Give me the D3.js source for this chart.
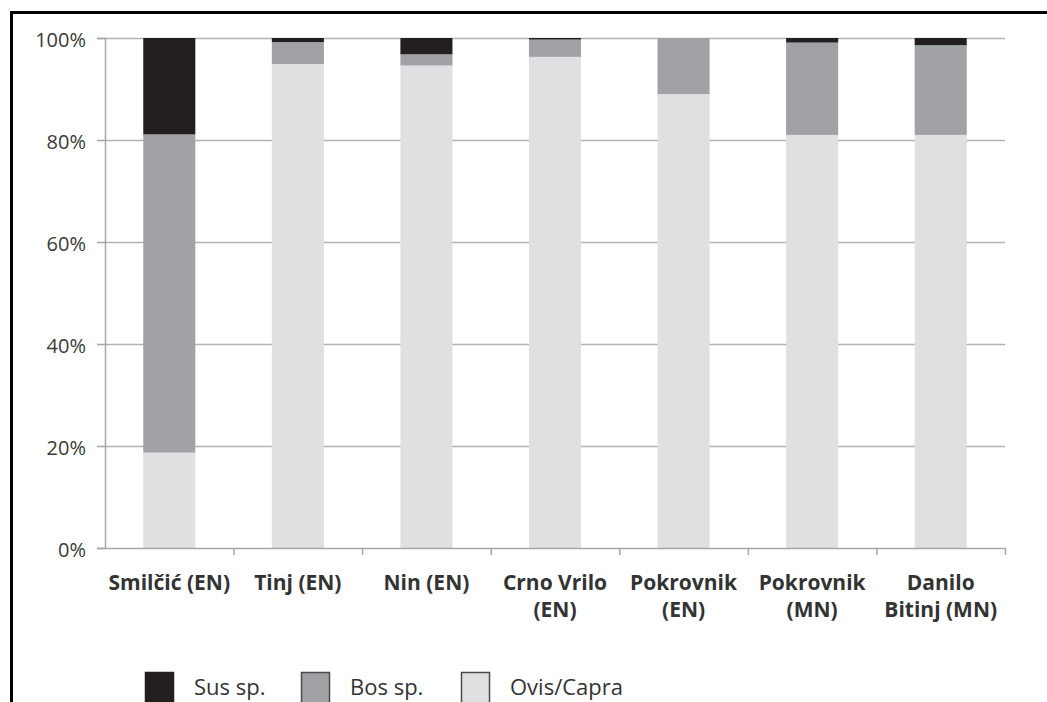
<!DOCTYPE html>
<html>
<head>
<meta charset="utf-8">
<script src="https://cdn.jsdelivr.net/npm/d3@7"></script>
<style>
  html, body { margin: 0; padding: 0; background: #fff; }
  svg { display: block; }
</style>
</head>
<body>
<script>
'use strict';

// sites, split into label lines as printed under the axis
const sites = ["Smilčić (EN)", "Tinj (EN)", "Nin (EN)", "Crno Vrilo (EN)", "Pokrovnik (EN)", "Pokrovnik (MN)", "Danilo Bitinj (MN)"];
const siteLines = [["Smilčić (EN)"], ["Tinj (EN)"], ["Nin (EN)"], ["Crno Vrilo", "(EN)"], ["Pokrovnik", "(EN)"], ["Pokrovnik", "(MN)"], ["Danilo", "Bitinj (MN)"]];

// percentages
const ovisCapra = [18.7, 94.9, 94.6, 96.3, 89.0, 81.0, 81.0];
const bosSp = [62.4, 4.3, 2.2, 3.4, 11.0, 18.1, 17.6];
const susSp = [18.9, 0.8, 3.2, 0.3, 0.0, 0.9, 1.4];

const seriesNames = ["Ovis/Capra", "Bos sp.", "Sus sp."];
const legendOrder = ["Sus sp.", "Bos sp.", "Ovis/Capra"];
const yTicks = [0, 20, 40, 60, 80, 100];

const colors = {
  "Sus sp.": "#231f20",
  "Bos sp.": "#a1a2a5",
  "Ovis/Capra": "#e0e0e2"
};

const m = { left: 105, right: 1005, top: 38, bottom: 548 };

const svg = d3.select('body')
  .append('svg')
  .attr('width', 1047)
  .attr('height', 702);

// frame (top and left edges only are visible)
svg.append('line')
  .attr('x1', 10).attr('x2', 1047).attr('y1', 12.5).attr('y2', 12.5)
  .attr('stroke', '#000').attr('stroke-width', 3);
svg.append('line')
  .attr('x1', 11.5).attr('x2', 11.5).attr('y1', 11).attr('y2', 702)
  .attr('stroke', '#000').attr('stroke-width', 3);

// table for stacking
const table = sites.map((s, i) => ({
  site: s,
  "Ovis/Capra": ovisCapra[i],
  "Bos sp.": bosSp[i],
  "Sus sp.": susSp[i]
}));

const stacked = d3.stack().keys(seriesNames)(table);

const xScale = d3.scaleBand()
  .domain(sites)
  .range([m.left, m.right])
  .padding(0);

const yScale = d3.scaleLinear()
  .domain([0, 100])
  .range([m.bottom, m.top]);

const barW = xScale.bandwidth() * 0.405;

// gridlines
svg.append('g')
  .attr('transform', 'translate(' + m.left + ',0)')
  .call(d3.axisLeft(yScale).tickValues(yTicks.slice(1)).tickSize(-(m.right - m.left)).tickFormat(''))
  .call(g => g.select('.domain').remove())
  .call(g => g.selectAll('line').attr('stroke', '#b2b2b2').attr('stroke-width', 1.5));

// bars
svg.append('g')
  .selectAll('g')
  .data(stacked)
  .enter()
  .append('g')
  .attr('fill', (d) => colors[d.key])
  .selectAll('rect')
  .data((d) => d)
  .enter()
  .append('rect')
  .attr('x', (d) => xScale(d.data.site) + (xScale.bandwidth() - barW) / 2)
  .attr('y', (d) => yScale(d[1]))
  .attr('width', barW)
  .attr('height', (d) => yScale(d[0]) - yScale(d[1]));

// y axis
const yAxis = svg.append('g')
  .attr('transform', 'translate(' + m.left + ',0)')
  .call(d3.axisLeft(yScale).tickValues(yTicks).tickSize(8).tickPadding(11).tickFormat((d) => d + '%'));
yAxis.select('.domain').attr('stroke', '#a6a6a6').attr('stroke-width', 1.5);
yAxis.selectAll('line').attr('stroke', '#a6a6a6').attr('stroke-width', 1.5);
yAxis.selectAll('text')
  .attr('font-family', '"Open Sans", sans-serif')
  .attr('font-size', '20px')
  .attr('fill', '#3a3a3a')
  .attr('dy', '0.4em');

// x axis with ticks on the category boundaries
const boundary = d3.scaleLinear().domain([0, sites.length]).range([m.left, m.right]);
const xAxis = svg.append('g')
  .attr('transform', 'translate(0,' + m.bottom + ')')
  .call(d3.axisBottom(boundary).tickValues(d3.range(1, sites.length + 1)).tickSize(7).tickSizeOuter(0).tickFormat(''));
xAxis.select('.domain').attr('stroke', '#a6a6a6').attr('stroke-width', 1.5);
xAxis.selectAll('line').attr('stroke', '#a6a6a6').attr('stroke-width', 1.5);

// category labels
const labels = svg.append('g')
  .selectAll('text')
  .data(sites)
  .enter()
  .append('text')
  .attr('text-anchor', 'middle')
  .attr('font-family', '"Open Sans", sans-serif')
  .attr('font-weight', 'bold')
  .attr('font-size', '21px')
  .attr('fill', '#333');

labels.each(function(d, i) {
  const t = d3.select(this);
  siteLines[i].forEach((line, j) => {
    t.append('tspan')
      .attr('x', xScale(d) + xScale.bandwidth() / 2)
      .attr('y', 590 + j * 27)
      .text(line);
  });
});

// legend
const legendX = [145, 301, 461];
const legend = svg.append('g')
  .selectAll('g')
  .data(legendOrder)
  .enter()
  .append('g')
  .attr('transform', (d, i) => 'translate(' + legendX[i] + ',672)');

legend.append('rect')
  .attr('x', 0.5)
  .attr('y', 0.5)
  .attr('width', 28)
  .attr('height', 40)
  .attr('fill', (d) => colors[d])
  .attr('stroke', (d) => d === "Sus sp." ? colors[d] : '#4a4a4a')
  .attr('stroke-width', 1.5);

legend.append('text')
  .attr('x', 49)
  .attr('y', 23)
  .attr('font-family', '"Open Sans", sans-serif')
  .attr('font-size', '22px')
  .attr('fill', '#333')
  .text((d) => d);
</script>
</body>
</html>
